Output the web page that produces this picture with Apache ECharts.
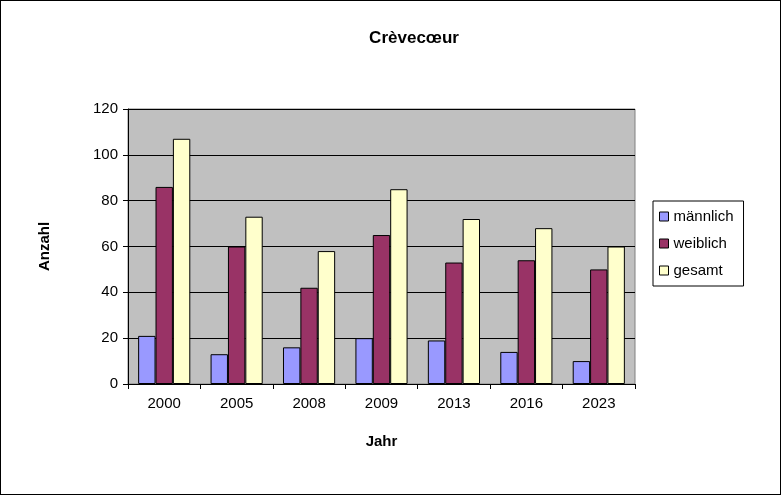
<!DOCTYPE html>
<html>
<head>
<meta charset="utf-8">
<script src="https://cdn.jsdelivr.net/npm/echarts@6/dist/echarts.min.js"></script>
<style>
  html, body { margin: 0; padding: 0; background: #fff; }
  #main { width: 779px; height: 493px; border: 1px solid #000; }
</style>
</head>
<body>
<div id="main"></div>
<script>
var jahre = ['2000', '2005', '2008', '2009', '2013', '2016', '2023'];
var maennlich = [21, 13, 16, 20, 19, 14, 10];
var weiblich = [86, 60, 42, 65, 53, 54, 50];
var gesamt = [107, 73, 58, 85, 72, 68, 60];

var myChart = echarts.init(document.getElementById('main'));
var font = 'Liberation Sans, Arial, sans-serif';
function serie(name, data, color) {
  return {
    name: name, type: 'bar', data: data, barGap: '0%', barCategoryGap: '28%',
    itemStyle: { color: color, borderColor: '#000', borderWidth: 1 }
  };
}
option = {
  textStyle: { fontFamily: font },
  title: {
    text: 'Crèvecœur', left: 408, top: 24, textAlign: 'center',
    textStyle: { fontSize: 17, fontWeight: 'bold', color: '#000', fontFamily: font }
  },
  legend: {
    orient: 'vertical', left: 652, top: 200, width: 111,
    padding: [8, 10, 8, 6], itemGap: 12, itemWidth: 9, itemHeight: 9,
    borderColor: '#000', borderWidth: 1, backgroundColor: '#fff',
    icon: 'rect',
    itemStyle: { borderColor: '#000', borderWidth: 1 },
    textStyle: { fontSize: 15, color: '#000', fontFamily: font },
    data: ['männlich', 'weiblich', 'gesamt']
  },
  grid: {
    left: 127, top: 108, width: 507, height: 275, show: true,
    backgroundColor: '#c0c0c0', borderColor: '#808080', borderWidth: 1
  },
  xAxis: {
    type: 'category', data: jahre,
    name: 'Jahr', nameLocation: 'middle', nameGap: 50,
    nameTextStyle: { fontSize: 15, fontWeight: 'bold', color: '#000' },
    axisLine: { lineStyle: { color: '#000' } },
    axisTick: { show: true, alignWithLabel: false, lineStyle: { color: '#000' } },
    axisLabel: { fontSize: 15, color: '#000', margin: 12 }
  },
  yAxis: {
    type: 'value', min: 0, max: 120, interval: 20,
    name: 'Anzahl', nameLocation: 'middle', nameGap: 76,
    nameTextStyle: { fontSize: 15, fontWeight: 'bold', color: '#000' },
    axisLine: { show: true, lineStyle: { color: '#000' } },
    axisTick: { show: true, inside: false, length: 5, lineStyle: { color: '#000' } },
    axisLabel: { fontSize: 15, color: '#000', margin: 10 },
    splitLine: { lineStyle: { color: '#000', width: 1 } }
  },
  series: [
    serie('männlich', maennlich, '#9999ff'),
    serie('weiblich', weiblich, '#993366'),
    serie('gesamt', gesamt, '#ffffcc')
  ]
};
myChart.setOption(option);
</script>
</body>
</html>
